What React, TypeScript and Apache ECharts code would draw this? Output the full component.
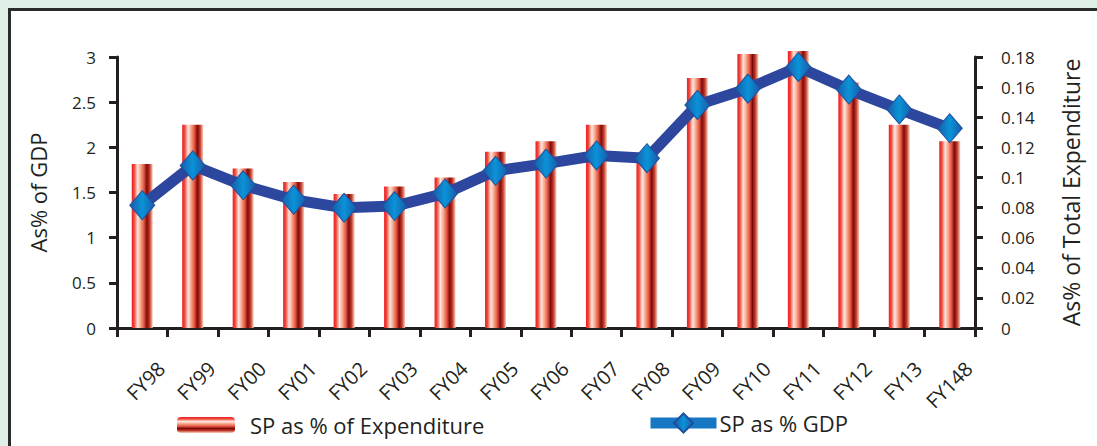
import React, { useEffect, useRef } from "react";
import * as echarts from "echarts";

const categories = ["FY98", "FY99", "FY00", "FY01", "FY02", "FY03", "FY04", "FY05", "FY06", "FY07", "FY08", "FY09", "FY10", "FY11", "FY12", "FY13", "FY148"];
const expenditureShare = [0.109, 0.135, 0.106, 0.097, 0.089, 0.094, 0.1, 0.117, 0.124, 0.135, 0.115, 0.166, 0.182, 0.184, 0.163, 0.135, 0.124];
const gdpShare = [1.36, 1.8, 1.58, 1.42, 1.33, 1.35, 1.49, 1.74, 1.82, 1.91, 1.88, 2.47, 2.65, 2.89, 2.64, 2.42, 2.21];
const leftTicks = { min: 0, max: 3, interval: 0.5 };
const rightTicks = { min: 0, max: 0.18, interval: 0.02 };
const barName = "SP as % of Expenditure";
const lineName = "SP as % GDP";
const leftAxisName = "As% of GDP";
const rightAxisName = "As% of Total Expenditure";

const FONT = "'Open Sans', sans-serif";
const TXT = "#231f20";

export default function App() {
  const ref = useRef<HTMLDivElement>(null);
  useEffect(() => {
    if (!ref.current) return;
    const chart = echarts.init(ref.current, undefined, { renderer: "svg" });
    const stripeStops = [
      { offset: 0, color: "#ec1c24" },
      { offset: 0.12, color: "#f04a3c" },
      { offset: 0.28, color: "#fde6de" },
      { offset: 0.42, color: "#f7a88e" },
      { offset: 0.58, color: "#e5553e" },
      { offset: 0.72, color: "#7d0a0a" },
      { offset: 0.85, color: "#c23a2a" },
      { offset: 1, color: "#fbd2c2" },
    ];
    const barGrad = new echarts.graphic.LinearGradient(0, 0, 1, 0, stripeStops);
    const barGradLegend = new echarts.graphic.LinearGradient(0, 0, 0, 1, stripeStops);
    const diamondGrad = new echarts.graphic.LinearGradient(0, 0, 1, 0, [
      { offset: 0, color: "#1a5aa8" },
      { offset: 0.5, color: "#0a93d8" },
      { offset: 1, color: "#1a5aa8" },
    ]);
    chart.setOption({
      animation: false,
      textStyle: { fontFamily: FONT, color: TXT },
      grid: { left: 117, right: 122, top: 57, bottom: 118, containLabel: false },
      legend: [
        {
          data: [{ name: barName, itemStyle: { color: barGradLegend } }],
          left: 177,
          top: 414,
          padding: 0,
          itemWidth: 58,
          itemHeight: 16,
          textStyle: { fontSize: 22, color: TXT, fontFamily: FONT, padding: [0, 0, 0, 10] },
        },
        {
          data: [{ name: lineName, lineStyle: { width: 11, color: "#1677c2" } }],
          left: 645,
          top: 412,
          padding: 0,
          itemWidth: 66,
          itemHeight: 24,
          textStyle: { fontSize: 22, color: TXT, fontFamily: FONT, padding: [0, 0, 0, -2] },
        },
      ],
      xAxis: {
        type: "category",
        data: categories,
        boundaryGap: true,
        axisLine: { lineStyle: { color: TXT, width: 3 } },
        axisTick: { show: true, length: 9, lineStyle: { color: TXT, width: 3 } },
        axisLabel: {
          rotate: 45,
          fontSize: 20,
          color: TXT,
          fontFamily: FONT,
          margin: 18,
          verticalAlign: "top",
          lineHeight: 54,
          interval: 0,
        },
      },
      yAxis: [
        {
          type: "value",
          ...leftTicks,
          position: "left",
          name: leftAxisName,
          nameLocation: "middle",
          nameRotate: 90,
          nameGap: 68,
          nameTextStyle: { fontSize: 22, color: TXT, fontFamily: FONT },
          axisLine: { show: true, lineStyle: { color: TXT, width: 3 } },
          axisTick: { show: true, length: 8, lineStyle: { color: TXT, width: 3 } },
          axisLabel: { fontSize: 17, color: TXT, margin: 21, fontFamily: FONT },
          splitLine: { show: false },
        },
        {
          type: "value",
          ...rightTicks,
          position: "right",
          name: rightAxisName,
          nameLocation: "middle",
          nameRotate: 90,
          nameGap: 84,
          nameTextStyle: { fontSize: 23, color: TXT, fontFamily: FONT },
          axisLine: { show: true, lineStyle: { color: TXT, width: 3 } },
          axisTick: { show: true, length: 8, lineStyle: { color: TXT, width: 3 } },
          axisLabel: { fontSize: 17, color: TXT, margin: 26, fontFamily: FONT },
          splitLine: { show: false },
        },
      ],
      series: [
        {
          name: barName,
          type: "bar",
          yAxisIndex: 1,
          data: expenditureShare,
          barWidth: 21,
          clip: false,
          itemStyle: { color: barGrad },
        },
        {
          name: lineName,
          type: "line",
          yAxisIndex: 0,
          data: gdpShare,
          symbol: "diamond",
          symbolSize: [25, 29],
          lineStyle: { color: "#2d479e", width: 11 },
          itemStyle: { color: diamondGrad, borderColor: "#1f4f9c", borderWidth: 1 },
          z: 5,
        },
      ],
    });
    return () => chart.dispose();
  }, []);

  return (
    <div style={{ position: "fixed", left: 0, top: 0, width: 1097, height: 446, background: "#e1f0e6", overflow: "hidden" }}>
      <div
        style={{
          position: "absolute",
          left: 8,
          top: 8,
          width: 1200,
          height: 600,
          background: "#ffffff",
          borderLeft: "3px solid #2b2b2b",
          borderTop: "3px solid #2b2b2b",
        }}
      />
      <div ref={ref} style={{ position: "absolute", left: 0, top: 0, width: 1097, height: 446 }} />
    </div>
  );
}
